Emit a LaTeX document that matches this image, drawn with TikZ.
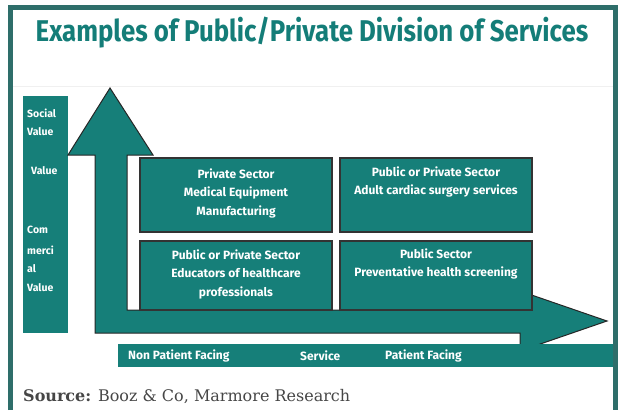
\documentclass[tikz,border=0pt]{standalone}
\usepackage{fontspec}
\setmainfont{Fira Sans}
\newfontfamily\slabfont{DejaVu Serif}
\usetikzlibrary{positioning}
\definecolor{myteal}{RGB}{22,127,121}
\definecolor{myframe}{RGB}{46,110,106}
\definecolor{mytitle}{RGB}{20,125,120}
\definecolor{mysource}{RGB}{70,70,70}

\begin{document}
\begin{tikzpicture}[x=1pt,y=-1pt,
  sbox/.style={draw=black!80, line width=1.2pt, fill=myteal, minimum width=192pt, inner sep=0pt},
  stxt/.style={text=white, font=\fontsize{12}{18.5}\selectfont\bfseries, align=center, inner sep=0pt},
  ltxt/.style={text=white, font=\fontsize{10.5}{12}\selectfont\bfseries, anchor=west, inner sep=0pt},
  btxt/.style={text=white, font=\fontsize{12}{13}\selectfont\bfseries, anchor=west, inner sep=0pt}]
  \useasboundingbox (0,0) rectangle (618,410);
  \draw[myframe, line width=5.5pt] (10.5,410) -- (10.5,7.5) -- (615.5,7.5) -- (615.5,410);
  \draw[black!6, line width=0.8pt] (13,86) -- (613,86);

  \node[text=mytitle, font=\fontsize{30}{33}\selectfont\bfseries] (title) at (312,33)
    {\scalebox{0.86}[1]{Examples of Public/Private Division of Services}};

  \node[fill=myteal, minimum width=45pt, minimum height=237pt, inner sep=0pt] (valcol) at (45.5,214.5) {};
  \node[ltxt] (soc) at (27,113) {Social};
  \node[ltxt] (socv) at (27,132) {Value};
  \node[ltxt] (midv) at (31,171) {Value};
  \node[ltxt] (com1) at (27,230) {Com};
  \node[ltxt] (com2) at (27,250) {merci};
  \node[ltxt] (com3) at (27,269) {al};
  \node[ltxt] (com4) at (27,288) {Value};

  \filldraw[fill=myteal, draw=black!85, line width=1pt] (110,88) -- (153,155) -- (127,155) -- (127,310)
    -- (520,310) -- (520,291) -- (607,321) -- (520,351) -- (520,333) -- (95,333) -- (95,155) -- (68,155) -- cycle;

  \node[sbox, minimum height=74pt] (prv) at (236,195) {};
  \node[sbox, minimum height=74pt] (cardiac) at (436,195) {};
  \node[sbox, minimum height=69pt] (edu) at (236,275.5) {};
  \node[sbox, minimum height=69pt] (pub) at (436,275.5) {};

  \node[stxt, below=11pt of prv.north] {Private Sector\\Medical Equipment\\Manufacturing};
  \node[stxt, below=9pt of cardiac.north] {Public or Private Sector\\Adult cardiac surgery services};
  \node[stxt, below=9pt of edu.north] {Public or Private Sector\\Educators of healthcare\\professionals};
  \node[stxt, below=8pt of pub.north] {Public Sector\\Preventative health screening};

  \node[fill=myteal, minimum width=495pt, minimum height=23pt, inner sep=0pt] (svcbar) at (365.5,355.5) {};
  \node[btxt] (nonpf) at (128,356) {Non Patient Facing};
  \node[btxt] (svc) at (300,356) {Service};
  \node[btxt] (pf) at (385,356) {Patient Facing};

  \node[anchor=west, text=mysource, font=\slabfont\fontsize{16}{18}\selectfont, inner sep=0pt] (src) at (23,397)
    {\textbf{Source:} Booz \& Co, Marmore Research};
\end{tikzpicture}
\end{document}
